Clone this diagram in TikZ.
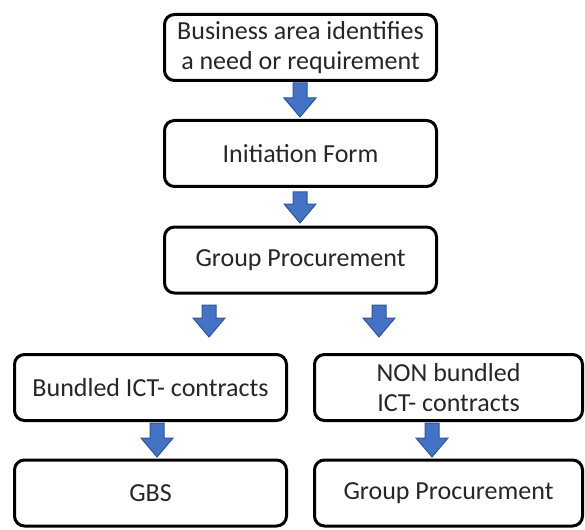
\documentclass[tikz,border=0pt]{standalone}
\usepackage{fontspec}
\setmainfont{Carlito}
\definecolor{arrowblue}{HTML}{4472C4}
\definecolor{arrowedge}{HTML}{2F5597}
\definecolor{textgray}{HTML}{262626}
\tikzset{
  flowbox/.style={draw=black, line width=3pt, rounded corners=10pt,
    minimum height=66pt, inner sep=0pt, align=center, text=textgray,
    font=\fontsize{26}{30}\selectfont},
  arrowshape/.style={fill=arrowblue, draw=arrowedge, line width=1pt, line join=miter}
}
% block arrow: x, top of shaft, tip
\newcommand{\blockarrow}[3]{%
  \filldraw[arrowshape] (#1-7,#2) -- (#1+7,#2) -- (#1+7,#3-19) -- (#1+16,#3-19)
    -- (#1,#3) -- (#1-16,#3-19) -- (#1-7,#3-19) -- cycle;}
\begin{document}
\begin{tikzpicture}[x=1pt,y=-1pt]
\useasboundingbox (0,0) rectangle (585,529);
\node[flowbox, minimum width=272pt] (need) at (300.5,47.5) {Business area identifies\\a need or requirement};
\node[flowbox, minimum width=272pt] (form) at (300.5,153.5) {Initiation Form};
\node[flowbox, minimum width=272pt] (group) at (300.5,260) {Group Procurement};
\node[flowbox, minimum width=272pt] (bundled) at (150.5,387.5) {Bundled ICT- contracts};
\node[flowbox, minimum width=268pt] (nonbundled) at (448.5,387.5) {NON bundled\\ICT- contracts};
\node[flowbox, minimum width=272pt] (gbs) at (150.5,493) {GBS};
\node[flowbox, minimum width=268pt] (groupb) at (448.5,493) {Group Procurement};
\blockarrow{300}{83}{117}
\blockarrow{300}{192}{223}
\blockarrow{209}{305}{337}
\blockarrow{379}{305}{337}
\blockarrow{157}{423}{457}
\blockarrow{432}{423}{457}
\end{tikzpicture}
\end{document}
